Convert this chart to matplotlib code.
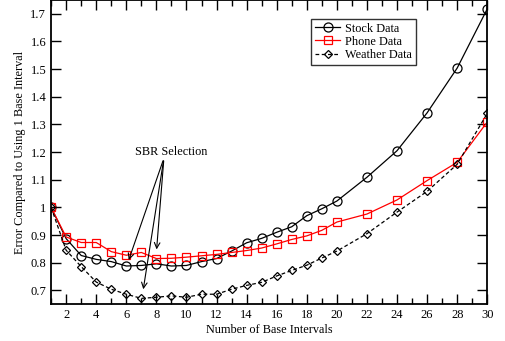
import matplotlib
matplotlib.use("Agg")
import matplotlib.pyplot as plt
from matplotlib.ticker import MultipleLocator

plt.rcParams["font.family"] = ["Liberation Serif", "DejaVu Serif"]

intervals = [1, 2, 3, 4, 5, 6, 7, 8, 9, 10, 11, 12, 13, 14, 15, 16, 17, 18, 19, 20,
             22, 24, 26, 28, 30]
stock = [1.0, 0.887, 0.826, 0.812, 0.804, 0.788, 0.79, 0.796, 0.788, 0.79, 0.804, 0.815,
         0.842, 0.872, 0.888, 0.91, 0.93, 0.97, 0.995, 1.023, 1.109, 1.205, 1.342, 1.504, 1.718]
phone = [1.0, 0.893, 0.873, 0.873, 0.84, 0.827, 0.837, 0.815, 0.816, 0.82, 0.825, 0.83,
         0.837, 0.844, 0.853, 0.868, 0.884, 0.897, 0.917, 0.947, 0.976, 1.027, 1.097, 1.163, 1.309]
weather = [1.0, 0.845, 0.786, 0.73, 0.704, 0.686, 0.671, 0.675, 0.68, 0.675, 0.686, 0.686,
           0.704, 0.718, 0.729, 0.752, 0.772, 0.791, 0.817, 0.842, 0.905, 0.983, 1.058, 1.156, 1.34]

fig = plt.figure(figsize=(5.06, 3.41), dpi=100)
ax = fig.add_axes([0.101, 0.108, 0.862, 0.892])

ax.plot(intervals, stock, "-o", color="black", lw=0.9, ms=6.5, mfc="none", mew=0.9,
        label="Stock Data")
ax.plot(intervals, phone, "-s", color="red", lw=0.9, ms=6, mfc="none", mew=0.9,
        label="Phone Data")
ax.plot(intervals, weather, "--D", color="black", lw=0.9, ms=4.3, mfc="none", mew=0.9,
        dashes=(3, 2), label="Weather Data")

# arrows pointing at chosen intervals
for tip in [(6.1, 0.800), (7.1, 0.694), (8.0, 0.838)]:
    ax.annotate("", xy=tip, xytext=(8.5, 1.178),
                arrowprops=dict(arrowstyle="->", color="black", lw=0.8))
ax.text(9.0, 1.2, "SBR Selection", ha="center", va="center", fontsize=8.8)

ax.set_xlim(1, 30)
ax.set_ylim(0.65, 1.75)
ax.xaxis.set_minor_locator(MultipleLocator(1))
ax.set_xticks(range(2, 31, 2))
ax.set_yticks([0.7, 0.8, 0.9, 1.0, 1.1, 1.2, 1.3, 1.4, 1.5, 1.6, 1.7])
ax.set_yticklabels(["0.7", "0.8", "0.9", "1", "1.1", "1.2", "1.3", "1.4", "1.5", "1.6", "1.7"])
ax.tick_params(which="both", direction="in", top=True, right=True, labelsize=9, width=1)
ax.tick_params(which="major", length=7)
ax.tick_params(which="minor", length=4)
for s in ax.spines.values():
    s.set_linewidth(1.3)

ax.set_xlabel("Number of Base Intervals", fontsize=8.8, labelpad=2)
ax.set_ylabel("Error Compared to Using 1 Base Interval", fontsize=8.8, labelpad=3)

leg = ax.legend(loc="upper left", bbox_to_anchor=(0.596, 0.938), fontsize=8.8,
                frameon=True, fancybox=False, edgecolor="black", handlelength=2.1,
                borderpad=0.3, labelspacing=0.1, handletextpad=0.4,
                borderaxespad=0)
leg.get_frame().set_linewidth(1.0)

fig.savefig("out.png", dpi=100)
